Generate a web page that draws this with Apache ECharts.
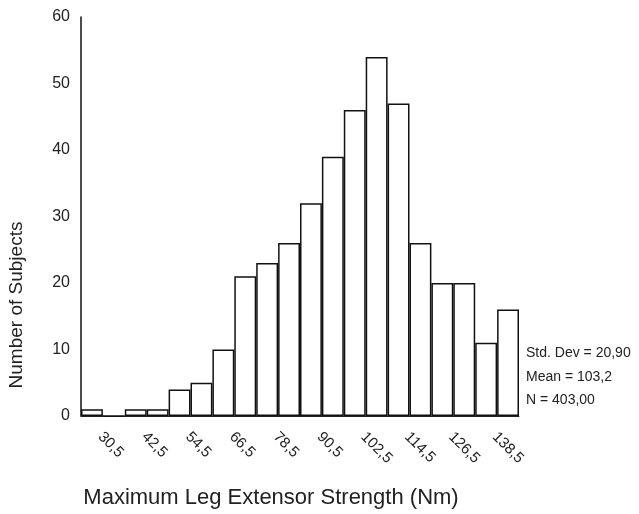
<!DOCTYPE html>
<html>
<head>
<meta charset="utf-8">
<script src="https://cdn.jsdelivr.net/npm/echarts@6/dist/echarts.min.js"></script>
<style>
  html, body { margin: 0; padding: 0; background: #fff; }
  #chart { width: 639px; height: 514px; }
</style>
</head>
<body>
<div id="chart"></div>
<script>
// Bin midpoints of the strength histogram (Nm), bin width 6
const binMidpoints = [30.5, 36.5, 42.5, 48.5, 54.5, 60.5, 66.5, 72.5, 78.5, 84.5,
                      90.5, 96.5, 102.5, 108.5, 114.5, 120.5, 126.5, 132.5, 138.5, 144.5];
// Number of subjects in each bin
const counts = [1, 0, 1, 1, 4, 5, 10, 21, 23, 26, 32, 39, 46, 54, 47, 26, 20, 20, 11, 16];
// Only every second midpoint is labelled on the axis
const labelledMidpoints = [30.5, 42.5, 54.5, 66.5, 78.5, 90.5, 102.5, 114.5, 126.5, 138.5];
const yTicks = [0, 10, 20, 30, 40, 50, 60];
const statLines = ['Std. Dev = 20,90', 'Mean = 103,2', 'N = 403,00'];
const xTitle = 'Maximum Leg Extensor Strength (Nm)';
const yTitle = 'Number of Subjects';

const FONT = '"Liberation Sans", Arial, sans-serif';
const fmt = v => String(v).replace('.', ',');

const chart = echarts.init(document.getElementById('chart'), null, { renderer: 'canvas' });

chart.setOption({
  animation: false,
  backgroundColor: '#ffffff',
  grid: { left: 81, right: 120, top: 17, bottom: 98, containLabel: false },
  xAxis: {
    type: 'category',
    data: binMidpoints.map(fmt),
    boundaryGap: true,
    axisLine: { show: true, lineStyle: { color: '#222', width: 1 } },
    axisTick: { show: false },
    splitLine: { show: false },
    axisLabel: {
      interval: 0,
      rotate: -45,
      margin: 10,
      padding: [0, 0, 0, 12],
      fontFamily: FONT,
      fontSize: 15,
      color: '#222',
      formatter: (val) => labelledMidpoints.map(fmt).includes(val) ? val : ''
    }
  },
  yAxis: {
    type: 'value',
    min: yTicks[0],
    max: yTicks[yTicks.length - 1],
    interval: 10,
    axisLine: { show: true, lineStyle: { color: '#111', width: 1.5 } },
    axisTick: { show: false },
    splitLine: { show: false },
    axisLabel: {
      margin: 11,
      fontFamily: FONT,
      fontSize: 16,
      color: '#222'
    }
  },
  series: [{
    type: 'bar',
    data: counts,
    barCategoryGap: '0%',
    itemStyle: {
      color: '#ffffff',
      borderColor: '#111',
      borderWidth: 1.5
    }
  }],
  graphic: [
    {
      type: 'text',
      x: 17, y: 305,
      rotation: Math.PI / 2,
      style: {
        text: yTitle,
        fontFamily: FONT, fontSize: 19, fill: '#222',
        align: 'center', verticalAlign: 'middle'
      }
    },
    {
      type: 'text',
      x: 271, y: 498,
      style: {
        text: xTitle,
        fontFamily: FONT, fontSize: 22, fill: '#222',
        align: 'center', verticalAlign: 'middle'
      }
    },
    {
      type: 'text',
      x: 526, y: 377,
      style: {
        text: statLines.join('\n'),
        fontFamily: FONT, fontSize: 14, fill: '#222',
        lineHeight: 23.5,
        align: 'left', verticalAlign: 'middle'
      }
    }
  ]
});
</script>
</body>
</html>
